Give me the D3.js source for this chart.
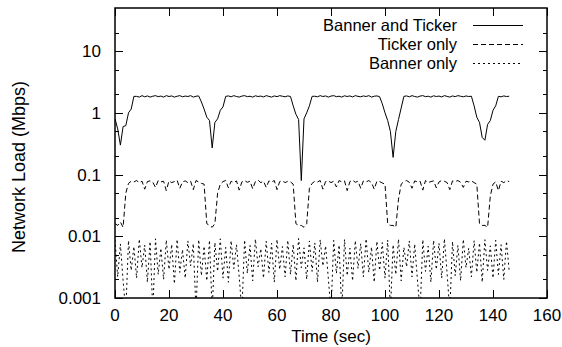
<!DOCTYPE html>
<html>
<head>
<meta charset="utf-8">
<script src="https://cdn.jsdelivr.net/npm/d3@7"></script>
<style>
  body { margin: 0; background: #fff; }
  svg { display: block; font-family: "Liberation Sans", Arial, Helvetica, sans-serif; }
</style>
</head>
<body>
<div id="chart"></div>
<script>
// one sample per second, t = 0 .. 146
const sampleStep = 1;

const seriesNames = ["Banner and Ticker", "Ticker only", "Banner only"];

const bannerAndTicker = [
  0.8, 0.55, 0.3, 0.6, 0.62, 1.0, 1.15, 1.85,
  1.85, 1.8, 1.9, 1.82, 1.88, 1.8, 1.86, 1.9, 1.83, 1.87, 1.8, 1.9,
  1.84, 1.88, 1.8, 1.86, 1.9, 1.82, 1.87, 1.84, 1.9, 1.8, 1.86, 1.88,
  1.5, 1.15, 0.85, 0.75, 0.27, 0.7, 0.8, 1.1, 1.25, 1.85,
  1.88, 1.82, 1.9, 1.84, 1.8, 1.87, 1.9, 1.83, 1.86, 1.8, 1.89, 1.84,
  1.87, 1.81, 1.9, 1.85, 1.8, 1.88, 1.83, 1.9, 1.86, 1.82, 1.88, 1.84,
  1.3, 0.95, 0.78, 0.08, 0.8, 1.0, 1.3, 1.85,
  1.86, 1.82, 1.9, 1.84, 1.88, 1.8, 1.87, 1.9, 1.83, 1.86, 1.8, 1.89,
  1.84, 1.88, 1.81, 1.9, 1.85, 1.82, 1.88, 1.84, 1.9, 1.8, 1.86, 1.88, 1.83,
  1.4, 1.0, 0.75, 0.5, 0.19, 0.5, 0.78, 1.2, 1.85,
  1.88, 1.82, 1.9, 1.84, 1.8, 1.87, 1.9, 1.83, 1.86, 1.8, 1.89, 1.84,
  1.87, 1.81, 1.9, 1.85, 1.8, 1.88, 1.83, 1.9, 1.86, 1.82, 1.88, 1.84, 1.86,
  1.3, 0.85, 0.7, 0.4, 0.36, 0.65, 0.75, 1.1, 1.3, 1.85,
  1.82, 1.88, 1.84, 1.86
];

const tickerOnly = [
  0.016, 0.015, 0.017, 0.014, 0.05, 0.072, 0.078,
  0.076, 0.08, 0.074, 0.078, 0.058, 0.077, 0.079, 0.075, 0.062, 0.08,
  0.076, 0.078, 0.055, 0.079, 0.074, 0.077, 0.081, 0.06, 0.076, 0.079,
  0.074, 0.078, 0.057, 0.08, 0.076, 0.072, 0.07,
  0.016, 0.015, 0.014, 0.016, 0.05, 0.07,
  0.077, 0.08, 0.061, 0.078, 0.074, 0.079, 0.056, 0.076, 0.08, 0.075,
  0.078, 0.059, 0.077, 0.081, 0.074, 0.078, 0.062, 0.079, 0.076, 0.08,
  0.057, 0.077, 0.079, 0.074, 0.078, 0.076, 0.07,
  0.016, 0.015, 0.015, 0.014, 0.016, 0.06, 0.072,
  0.078, 0.076, 0.08, 0.058, 0.077, 0.079, 0.074, 0.078, 0.063, 0.08,
  0.076, 0.079, 0.055, 0.077, 0.081, 0.075, 0.078, 0.06, 0.079, 0.076,
  0.08, 0.074, 0.058, 0.078, 0.077, 0.073, 0.07,
  0.016, 0.015, 0.015, 0.014, 0.04, 0.07,
  0.077, 0.08, 0.075, 0.06, 0.079, 0.076, 0.078, 0.056, 0.08, 0.074,
  0.077, 0.079, 0.061, 0.076, 0.08, 0.078, 0.074, 0.057, 0.079, 0.077,
  0.08, 0.075, 0.062, 0.078, 0.076, 0.079, 0.074, 0.07,
  0.016, 0.015, 0.015, 0.014, 0.045, 0.07,
  0.076, 0.055, 0.078, 0.074, 0.08, 0.077
];

const bannerOnly = [
  0.0088, 0.0022, 0.0075, 0.0019, 0.0006, 0.0085, 0.0028, 0.0068, 0.0021, 0.009,
  0.0031, 0.0072, 0.0018, 0.0082, 0.0006, 0.0091, 0.0024, 0.0064, 0.002, 0.0087,
  0.0029, 0.0074, 0.0017, 0.0089, 0.0026, 0.0061, 0.0021, 0.0084, 0.0033, 0.0076,
  0.0006, 0.0088, 0.0023, 0.0069, 0.0019, 0.0086, 0.0006, 0.0079, 0.0027, 0.0091,
  0.0021, 0.0066, 0.0018, 0.0085, 0.003, 0.0073, 0.0022, 0.0006, 0.0087, 0.0025,
  0.0071, 0.0019, 0.009, 0.0032, 0.0063, 0.0021, 0.0083, 0.0026, 0.0077, 0.0018,
  0.0089, 0.0029, 0.0068, 0.0022, 0.0086, 0.0024, 0.0074, 0.0019, 0.0092, 0.0031,
  0.0065, 0.002, 0.0084, 0.0027, 0.0078, 0.0018, 0.0088, 0.0033, 0.007, 0.0021,
  0.0006, 0.0086, 0.0025, 0.0072, 0.0006, 0.0089, 0.0023, 0.0064, 0.0019, 0.0085,
  0.003, 0.0076, 0.0022, 0.0091, 0.0026, 0.0067, 0.0018, 0.0083, 0.0028, 0.0079,
  0.0021, 0.0087, 0.0006, 0.0073, 0.0024, 0.009, 0.0019, 0.0066, 0.0032, 0.0084,
  0.0022, 0.0075, 0.002, 0.0006, 0.0088, 0.0027, 0.0069, 0.0018, 0.0086, 0.0029,
  0.0077, 0.0021, 0.0091, 0.0025, 0.0006, 0.0082, 0.0023, 0.0071, 0.0019, 0.0089,
  0.0031, 0.0064, 0.0022, 0.0085, 0.0026, 0.0078, 0.0018, 0.0088, 0.0028, 0.007,
  0.0021, 0.0086, 0.0024, 0.0073, 0.002, 0.0083, 0.0027
];

const xTicks = [0, 20, 40, 60, 80, 100, 120, 140, 160];
const yTicks = [0.001, 0.01, 0.1, 1, 10];
const yTickLabels = ["0.001", "0.01", "0.1", "1", "10"];
const yMinorTicks = [0.002, 0.005, 0.02, 0.05, 0.2, 0.5, 2, 5, 20];

const width = 562, height = 347;
const plotLeft = 115, plotRight = 547, plotTop = 8, plotBottom = 298;

const svg = d3.select("#chart").append("svg")
    .attr("width", width)
    .attr("height", height)
    .attr("viewBox", [0, 0, width, height]);

const x = d3.scaleLinear().domain([0, 160]).range([plotLeft, plotRight]);
const y = d3.scaleLog().domain([0.001, 50]).range([plotBottom, plotTop]);

svg.append("defs").append("clipPath")
    .attr("id", "plot-clip")
    .append("rect")
    .attr("x", plotLeft).attr("y", plotTop)
    .attr("width", plotRight - plotLeft).attr("height", plotBottom - plotTop);

// ticks (inward, mirrored on all sides, like gnuplot)
const majorLen = 8, minorLen = 4;
const tickGroup = svg.append("g").attr("stroke", "#000").attr("stroke-width", 1);

xTicks.forEach(t => {
    const px = Math.round(x(t)) + 0.5;
    tickGroup.append("line").attr("x1", px).attr("x2", px).attr("y1", plotBottom).attr("y2", plotBottom - majorLen);
    tickGroup.append("line").attr("x1", px).attr("x2", px).attr("y1", plotTop).attr("y2", plotTop + majorLen);
});
yTicks.forEach(t => {
    const py = Math.round(y(t)) + 0.5;
    tickGroup.append("line").attr("x1", plotLeft).attr("x2", plotLeft + majorLen).attr("y1", py).attr("y2", py);
    tickGroup.append("line").attr("x1", plotRight).attr("x2", plotRight - majorLen).attr("y1", py).attr("y2", py);
});
yMinorTicks.forEach(t => {
    const py = Math.round(y(t)) + 0.5;
    tickGroup.append("line").attr("x1", plotLeft).attr("x2", plotLeft + minorLen).attr("y1", py).attr("y2", py);
    tickGroup.append("line").attr("x1", plotRight).attr("x2", plotRight - minorLen).attr("y1", py).attr("y2", py);
});

// tick labels
const labelGroup = svg.append("g").attr("font-size", 17).attr("fill", "#000");
xTicks.forEach(t => {
    labelGroup.append("text")
        .attr("x", x(t)).attr("y", 321)
        .attr("text-anchor", "middle")
        .text(t);
});
yTicks.forEach((t, i) => {
    labelGroup.append("text")
        .attr("x", 101).attr("y", y(t) + 6)
        .attr("text-anchor", "end")
        .text(yTickLabels[i]);
});

// axis titles
labelGroup.append("text")
    .attr("x", 331).attr("y", 342)
    .attr("text-anchor", "middle")
    .text("Time (sec)");
labelGroup.append("text")
    .attr("transform", "translate(25,167) rotate(-90)")
    .attr("font-size", 18)
    .attr("text-anchor", "middle")
    .text("Network Load (Mbps)");

// data lines
const seriesData = [bannerAndTicker, tickerOnly, bannerOnly];
const dashes = [null, "5,3", "2,3"];

const line = d3.line()
    .x((d, i) => x(i * sampleStep))
    .y(d => y(d));

const dataGroup = svg.append("g").attr("clip-path", "url(#plot-clip)");
seriesData.forEach((values, k) => {
    dataGroup.append("path")
        .datum(values)
        .attr("fill", "none")
        .attr("stroke", "#000")
        .attr("stroke-width", 1)
        .attr("stroke-dasharray", dashes[k])
        .attr("d", line);
});

// frame
svg.append("rect")
    .attr("x", plotLeft).attr("y", plotTop)
    .attr("width", plotRight - plotLeft).attr("height", plotBottom - plotTop)
    .attr("fill", "none")
    .attr("stroke", "#000")
    .attr("stroke-width", 1.5);

// legend
const legend = svg.append("g").attr("font-size", 16.5);
seriesNames.forEach((name, k) => {
    const ly = 25 + k * 19;
    legend.append("text")
        .attr("x", 457).attr("y", ly + 6)
        .attr("text-anchor", "end")
        .text(name);
    legend.append("line")
        .attr("x1", 473).attr("x2", 523)
        .attr("y1", Math.round(ly) + 0.5).attr("y2", Math.round(ly) + 0.5)
        .attr("stroke", "#000")
        .attr("stroke-width", 1)
        .attr("stroke-dasharray", dashes[k]);
});
</script>
</body>
</html>
